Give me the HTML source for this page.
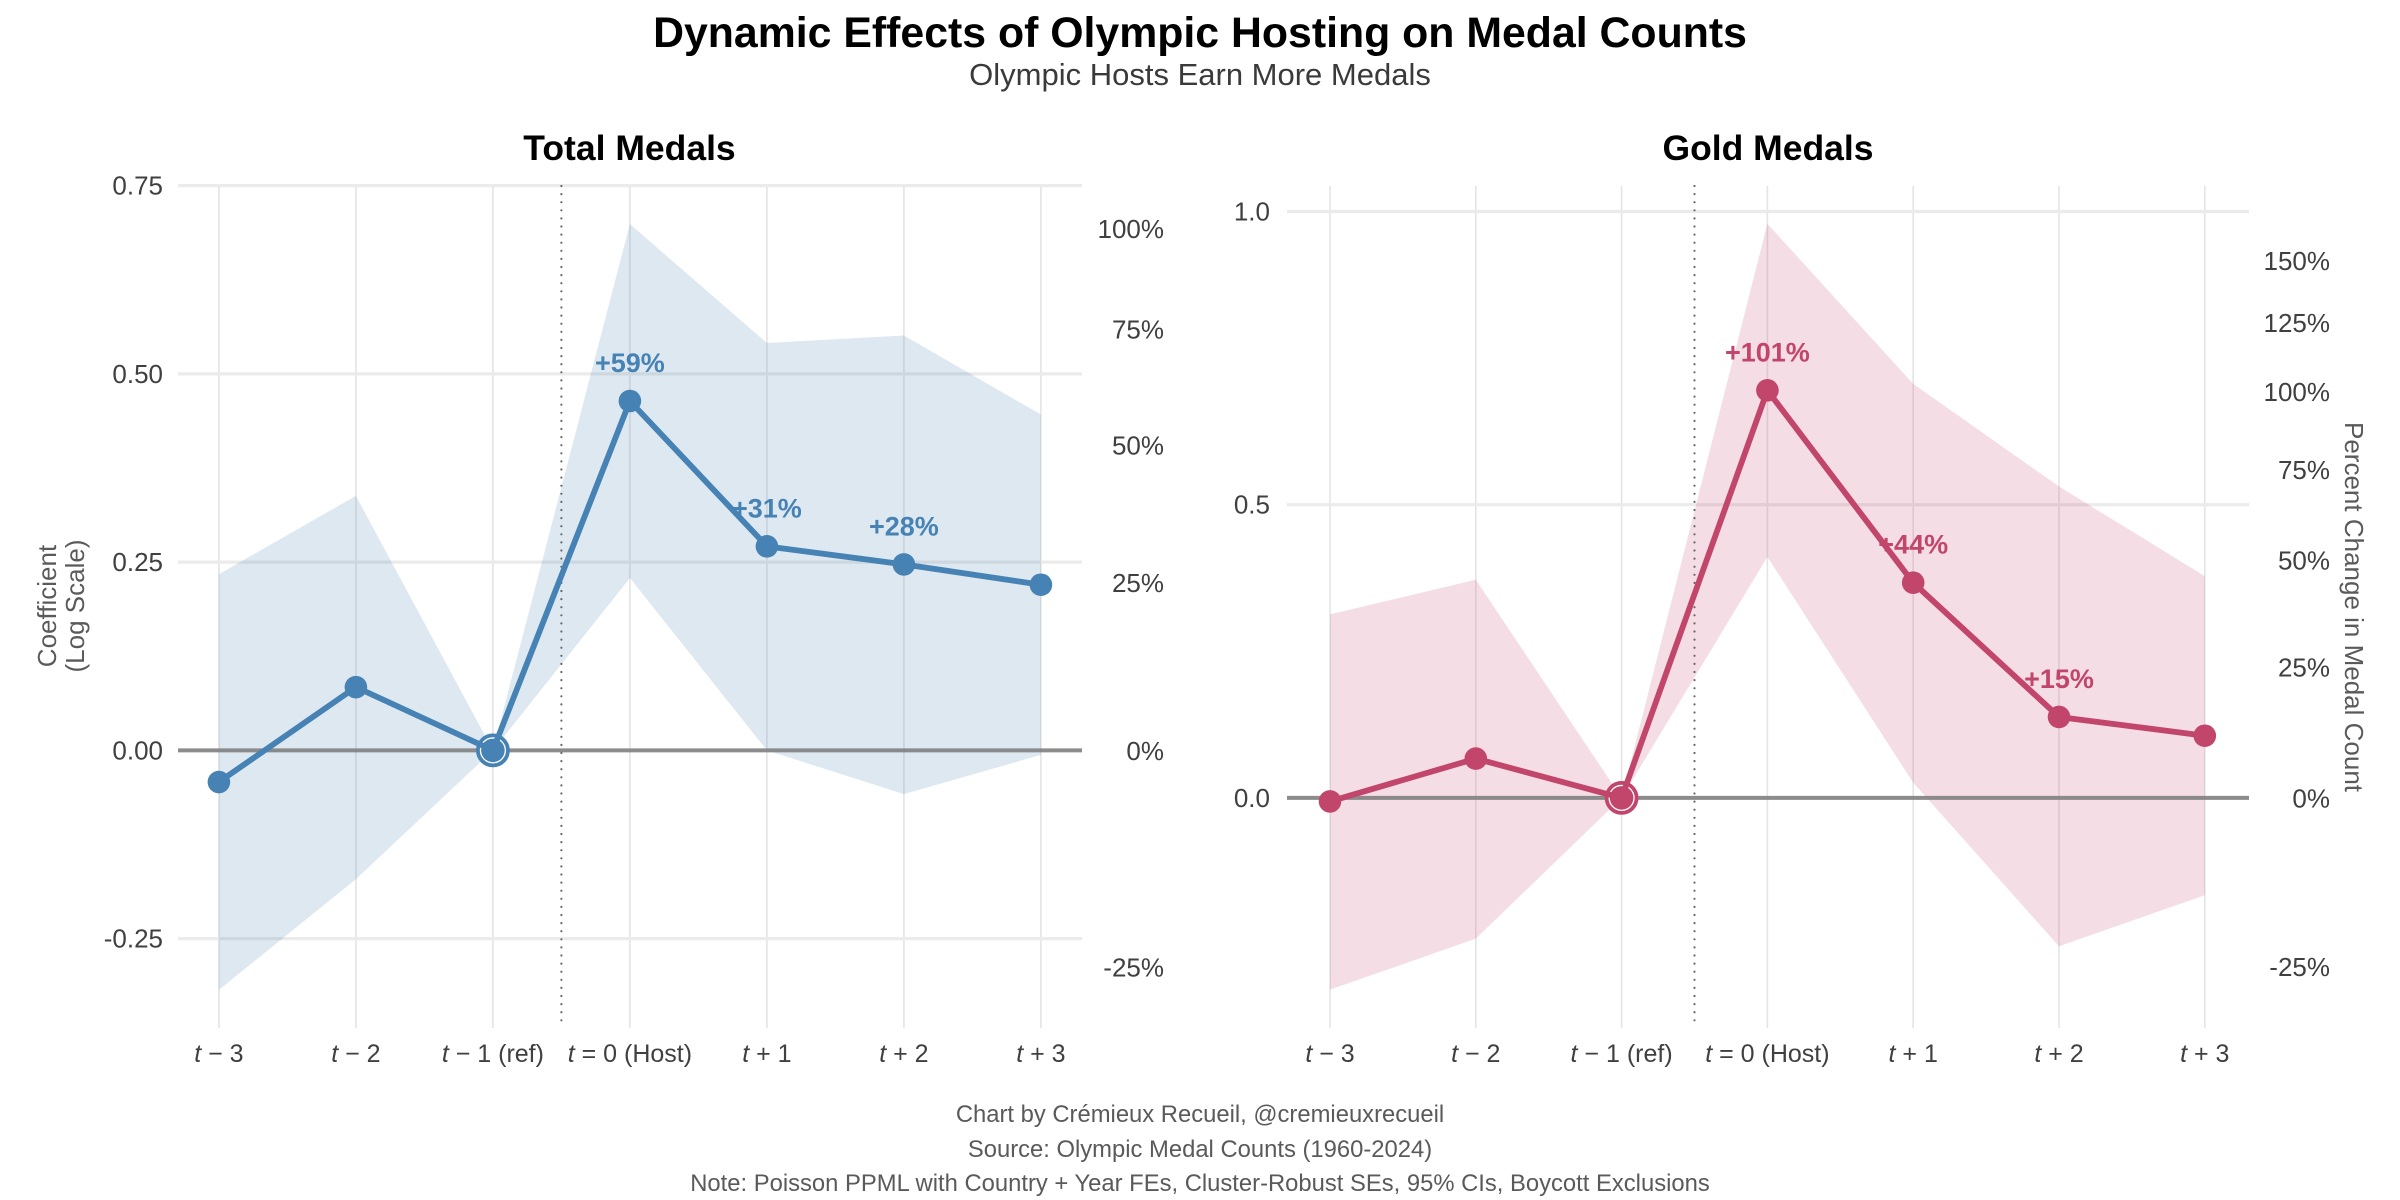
<!DOCTYPE html>
<html lang="en">
<head>
<meta charset="utf-8">
<title>Dynamic Effects of Olympic Hosting on Medal Counts</title>
<style>
html,body{margin:0;padding:0;background:#fff;}
svg{display:block;font-family:"Liberation Sans",Arial,sans-serif;}
</style>
</head>
<body>
<svg id="chart" xmlns="http://www.w3.org/2000/svg" width="2400" height="1200" viewBox="0 0 2400 1200">
  <rect width="2400" height="1200" fill="#ffffff"/>
  <text x="1200" y="47" text-anchor="middle" font-size="42.8" font-weight="700" fill="#000">Dynamic Effects of Olympic Hosting on Medal Counts</text>
  <text x="1200" y="85" text-anchor="middle" font-size="31" fill="#3a3a3a">Olympic Hosts Earn More Medals</text>
  <text x="629.5" y="160" text-anchor="middle" font-size="35.5" font-weight="700" fill="#000">Total Medals</text>
  <text x="1768" y="160" text-anchor="middle" font-size="35.5" font-weight="700" fill="#000">Gold Medals</text>
  <text transform="translate(56,606) rotate(-90)" text-anchor="middle" font-size="26" fill="#5a5a5a">Coefficient</text>
  <text transform="translate(84,606) rotate(-90)" text-anchor="middle" font-size="26" fill="#5a5a5a">(Log Scale)</text>
  <text transform="translate(2345,607) rotate(90)" text-anchor="middle" font-size="26" fill="#5a5a5a">Percent Change in Medal Count</text>
  <text x="1200" y="1122" text-anchor="middle" font-size="23.8" fill="#5a5a5a">Chart by Crémieux Recueil, @cremieuxrecueil</text>
  <text x="1200" y="1157" text-anchor="middle" font-size="23.8" fill="#5a5a5a">Source: Olympic Medal Counts (1960-2024)</text>
  <text x="1200" y="1191" text-anchor="middle" font-size="23.8" fill="#5a5a5a">Note: Poisson PPML with Country + Year FEs, Cluster-Robust SEs, 95% CIs, Boycott Exclusions</text>
  <g id="panel-total"></g>
  <g id="panel-gold"></g>
</svg>
<script>
const periods = [-3, -2, -1, 0, 1, 2, 3];
const periodPrefix = ["t", "t", "t", "t", "t", "t", "t"];
const periodSuffix = [" − 3", " − 2", " − 1 (ref)", " = 0 (Host)", " + 1", " + 2", " + 3"];

const totalCoef = [-0.042, 0.084, 0, 0.464, 0.271, 0.247, 0.220];
const totalUpper = [0.234, 0.338, 0, 0.699, 0.541, 0.551, 0.446];
const totalLower = [-0.318, -0.171, 0, 0.229, 0.000, -0.058, -0.006];
const totalLabels = ["", "", "", "+59%", "+31%", "+28%", ""];
const totalYTicks = [-0.25, 0, 0.25, 0.5, 0.75];
const totalYTickLabels = ["-0.25", "0.00", "0.25", "0.50", "0.75"];
const totalPctTicks = [-25, 0, 25, 50, 75, 100];

const goldCoef = [-0.006, 0.067, 0, 0.695, 0.367, 0.138, 0.106];
const goldUpper = [0.313, 0.372, 0, 0.979, 0.706, 0.531, 0.378];
const goldLower = [-0.327, -0.240, 0, 0.411, 0.026, -0.253, -0.166];
const goldLabels = ["", "", "", "+101%", "+44%", "+15%", ""];
const goldYTicks = [0, 0.5, 1];
const goldYTickLabels = ["0.0", "0.5", "1.0"];
const goldPctTicks = [-25, 0, 25, 50, 75, 100, 125, 150];

const SVG_NS = "http://www.w3.org/2000/svg";
function mk(parent, tag, attrs) {
  const el = document.createElementNS(SVG_NS, tag);
  for (const k in attrs) el.setAttribute(k, attrs[k]);
  parent.appendChild(el);
  return el;
}

function drawPanel(cfg) {
  const g = document.getElementById(cfg.id);
  const x = p => cfg.x0 + (p - periods[0]) * cfg.xStep;
  const y = v => cfg.y0 - v * cfg.yScale;
  const top = 186, bottom = 1028;

  periods.forEach((p, i) => {
    const gl = mk(g, "line", {x1: x(p), x2: x(p), y1: top, y2: bottom, stroke: "#e4e4e4", "stroke-width": 1.6});
    
    
  });
  cfg.yTicks.forEach((v, i) => {
    if (v === 0) return;
    const gl = mk(g, "line", {x1: cfg.left, x2: cfg.right, y1: y(v), y2: y(v), stroke: "#ebebeb", "stroke-width": 3.2});
    
    
  });

  const band = periods.map((p, i) => x(p) + "," + y(cfg.upper[i]))
    .concat(periods.map((p, i) => x(p) + "," + y(cfg.lower[i])).reverse()).join(" ");
  const ribbon = mk(g, "polygon", {points: band, fill: cfg.color, "fill-opacity": 0.18});
  
  

  const zero = mk(g, "line", {x1: cfg.left, x2: cfg.right, y1: y(0), y2: y(0), stroke: "#808080", "stroke-opacity": 0.9, "stroke-width": 4});
  
  

  const vl = mk(g, "line", {x1: x(-0.5), x2: x(-0.5), y1: top, y2: bottom, stroke: "#666", "stroke-width": 2.2, "stroke-linecap": "round", "stroke-dasharray": "0 8.1"});
  
  

  const refIndex = periods.indexOf(-1);
  const ring = mk(g, "circle", {cx: x(periods[refIndex]), cy: y(cfg.coef[refIndex]), r: 15, fill: "#ffffff", stroke: cfg.color, "stroke-width": 3.8});
  
  

  const line = mk(g, "polyline", {points: periods.map((p, i) => x(p) + "," + y(cfg.coef[i])).join(" "), fill: "none", stroke: cfg.color, "stroke-width": 5.8, "stroke-linejoin": "round"});
  
  

  periods.forEach((p, i) => {
    const c = mk(g, "circle", {cx: x(p), cy: y(cfg.coef[i]), r: i === refIndex ? 11.8 : 11.3, fill: cfg.color});
    
    
    if (cfg.labels[i]) {
      const t = mk(g, "text", {x: x(p), y: y(cfg.coef[i]) - 29, "text-anchor": "middle", "font-size": 27, "font-weight": 700, fill: cfg.color});
      t.textContent = cfg.labels[i];
      
      
    }
    const tick = mk(g, "text", {x: x(p), y: 1062, "text-anchor": "middle", "font-size": 25, fill: "#404040"});
    
    
    const a = mk(tick, "tspan", {"font-style": "italic"});
    a.textContent = periodPrefix[i];
    const b = mk(tick, "tspan", {});
    b.textContent = periodSuffix[i];
  });

  cfg.yTicks.forEach((v, i) => {
    const t = mk(g, "text", {x: cfg.yLabelX, y: y(v) + 9, "text-anchor": "end", "font-size": 26, fill: "#404040"});
    t.textContent = cfg.yTickLabels[i];
    
    
  });
  cfg.pctTicks.forEach(pct => {
    const t = mk(g, "text", {x: cfg.pctLabelX, y: y(Math.log(1 + pct / 100)) + 9.5, "text-anchor": "end", "font-size": 26, fill: "#404040"});
    t.textContent = pct + "%";
    
    
  });
}

drawPanel({id: "panel-total", color: "#4682b4", x0: 218.9, xStep: 137, y0: 750.4, yScale: 753, left: 178, right: 1082,
  coef: totalCoef, upper: totalUpper, lower: totalLower, labels: totalLabels,
  yTicks: totalYTicks, yTickLabels: totalYTickLabels, pctTicks: totalPctTicks, yLabelX: 163, pctLabelX: 1164});
drawPanel({id: "panel-gold", color: "#c2456b", x0: 1330, xStep: 145.8, y0: 797.9, yScale: 586.4, left: 1287, right: 2249,
  coef: goldCoef, upper: goldUpper, lower: goldLower, labels: goldLabels,
  yTicks: goldYTicks, yTickLabels: goldYTickLabels, pctTicks: goldPctTicks, yLabelX: 1270, pctLabelX: 2330});
</script>
</body>
</html>
